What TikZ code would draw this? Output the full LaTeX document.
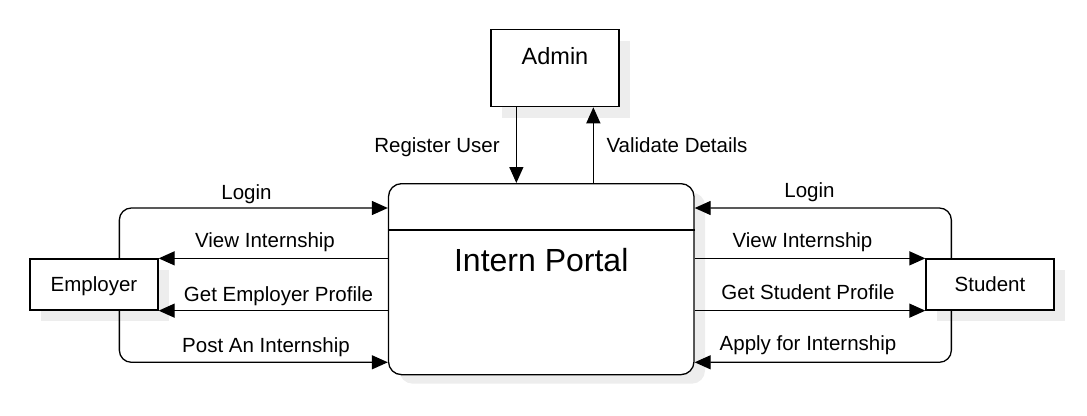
\documentclass[tikz,border=0pt]{standalone}
\usepackage{fontspec}
\setmainfont{Liberation Sans}
\usetikzlibrary{arrows.meta,shadows,calc}
\begin{document}
\begin{tikzpicture}[x=1pt,y=-1pt,
  lbl/.style={font=\fontsize{20.5}{24}\selectfont, inner sep=0pt, text height=14.8pt, text depth=0pt},
  shad/.style={drop shadow={shadow xshift=11pt, shadow yshift=-11pt, fill=black!7, opacity=1}},
  entity/.style={draw, line width=1.3pt, fill=white, minimum width=128pt, minimum height=51pt,
    inner sep=0pt, font=\fontsize{20.5}{24}\selectfont, text height=14.8pt, text depth=0pt, shad},
  flow/.style={line width=1.3pt, -{Triangle[length=16pt,width=14pt]}, rounded corners=12pt}]
\useasboundingbox (0,0) rectangle (1087,415);

% entities
\node[entity] (emp) at (94,284.5) {Employer};
\node[entity] (stu) at (990,284.5) {Student};
\node[draw, line width=1.3pt, fill=white, anchor=north, minimum width=128pt, minimum height=77pt,
  inner xsep=0pt, inner ysep=17.6pt, text height=16.8pt, text depth=25pt,
  font=\fontsize{23.5}{28}\selectfont, shad] (admin) at (555,29) {Admin};

% process
\node[draw, line width=1.3pt, fill=white, rounded corners=13pt, anchor=north,
  minimum width=305.5pt, minimum height=191pt, inner xsep=0pt, inner ysep=65pt,
  text height=22.9pt, text depth=38.1pt, font=\fontsize{32}{38}\selectfont,
  drop shadow={shadow xshift=11pt, shadow yshift=-9pt, fill=black!7, opacity=1}]
  (portal) at (541.25,183) {Intern Portal};
\draw[line width=1.3pt] ($(portal.north west)+(0,47)$) -- ($(portal.north east)+(0,47)$);

% admin flows
\coordinate (r) at ($(admin.south west)+(26,0)$);
\coordinate (v) at ($(admin.south west)+(103,0)$);
\draw[flow] (r) -- (r |- portal.north);
\draw[flow] (v |- portal.north) -- (v);

% employer flows
\draw[flow] ($(emp.north west)+(90,0)$) |- ($(portal.north west)+(0,25)$);
\draw[flow] (portal.west |- emp.north) -- (emp.north east);
\draw[flow] (portal.west |- emp.south) -- (emp.south east);
\draw[flow] ($(emp.south west)+(90,0)$) |- ($(portal.south west)+(0,-13)$);

% student flows
\draw[flow] ($(stu.north west)+(26,0)$) |- ($(portal.north east)+(0,25)$);
\draw[flow] (portal.east |- stu.north) -- (stu.north west);
\draw[flow] (portal.east |- stu.south) -- (stu.south west);
\draw[flow] ($(stu.south west)+(26,0)$) |- ($(portal.south east)+(0,-13)$);

% labels
\node[lbl] (lreg) at (437,145) {Register User};
\node[lbl] (lval) at (677,145) {Validate Details};
\node[lbl] (lel) at (246.5,192) {Login};
\node[lbl] (lev) at (265,240) {View Internship};
\node[lbl] (lep) at (278.5,294) {Get Employer Profile};
\node[lbl] (lpo) at (266,345) {Post An Internship};
\node[lbl] (lsl) at (809.5,190) {Login};
\node[lbl] (lsv) at (802.5,240) {View Internship};
\node[lbl] (lsp) at (808,292) {Get Student Profile};
\node[lbl] (lap) at (808,343) {Apply for Internship};
\end{tikzpicture}
\end{document}
